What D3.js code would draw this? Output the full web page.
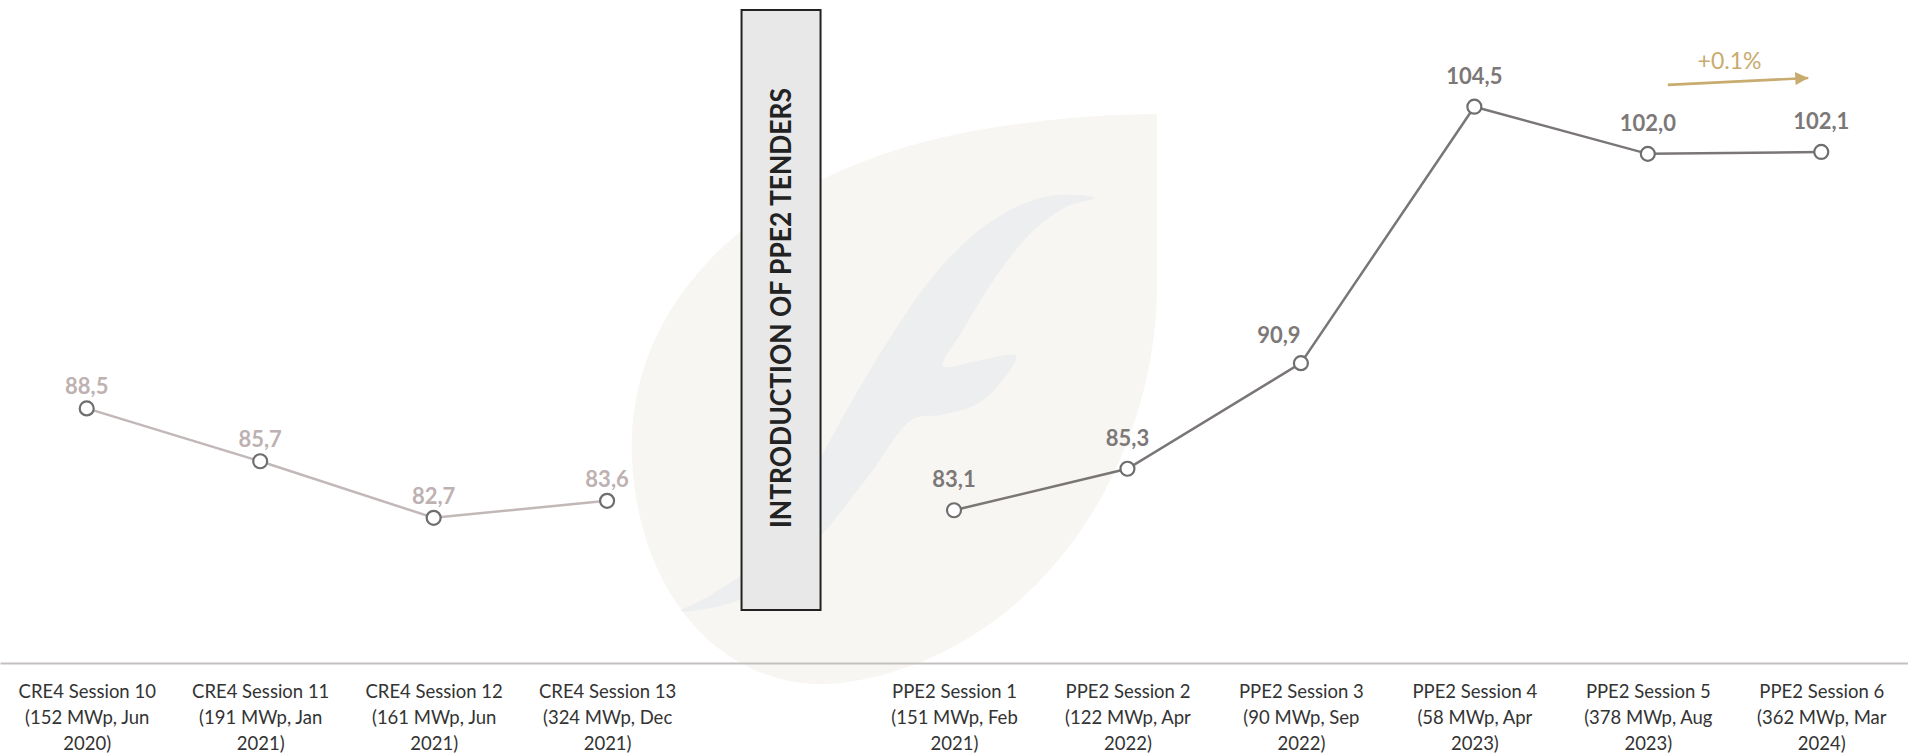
<!DOCTYPE html>
<html>
<head>
<meta charset="utf-8">
<script src="https://cdn.jsdelivr.net/npm/d3@7"></script>
<style>
  html, body { margin: 0; padding: 0; background: #fff; }
  svg { display: block; font-family: Lato, "Open Sans", sans-serif; }
</style>
</head>
<body>
<svg id="chart-area"></svg>
<script>
// categories, with one empty slot where the PPE2 note sits
const categories = [
    "CRE4 Session 10", "CRE4 Session 11", "CRE4 Session 12", "CRE4 Session 13",
    "gap",
    "PPE2 Session 1", "PPE2 Session 2", "PPE2 Session 3",
    "PPE2 Session 4", "PPE2 Session 5", "PPE2 Session 6"
]
const tickDetails = [
    ["(152 MWp, Jun", "2020)"], ["(191 MWp, Jan", "2021)"], ["(161 MWp, Jun", "2021)"], ["(324 MWp, Dec", "2021)"],
    [],
    ["(151 MWp, Feb", "2021)"], ["(122 MWp, Apr", "2022)"], ["(90 MWp, Sep", "2022)"],
    ["(58 MWp, Apr", "2023)"], ["(378 MWp, Aug", "2023)"], ["(362 MWp, Mar", "2024)"]
]
const cre4Sessions = ["CRE4 Session 10", "CRE4 Session 11", "CRE4 Session 12", "CRE4 Session 13"]
const cre4Values = [88.5, 85.7, 82.7, 83.6]
const ppe2Sessions = ["PPE2 Session 1", "PPE2 Session 2", "PPE2 Session 3", "PPE2 Session 4", "PPE2 Session 5", "PPE2 Session 6"]
const ppe2Values = [83.1, 85.3, 90.9, 104.5, 102.0, 102.1]
const noteText = "INTRODUCTION OF PPE2 TENDERS"
const changeText = "+0.1%"

function drawChart() {
    const width = 1908
    const height = 755
    const baseline = 663

    const svg = d3.select("#chart-area")
        .attr("width", width)
        .attr("height", height)

    const x = d3.scalePoint().domain(categories).range([0, width]).padding(0.5)
    const y = d3.scaleLinear().domain([75, 110]).range([baseline, 3])

    const fmt = d3.formatLocale({decimal: ",", thousands: ".", grouping: [3], currency: ["", ""]}).format(".1f")

    // watermark logo (leaf with an "f")
    const logo = svg.append("g")
    logo.append("path")
        .attr("d", "M1157,114 L1157,295 C1152,470 1040,645 860,680 C740,705 640,610 632,460 C624,300 760,165 990,128 C1070,116 1120,114 1157,114 Z")
        .attr("fill", "#f8f6f2")
    const fOutline = [
        [1095,198],[1049,196],[995,219],[941,267],[888,341],[834,433],[791,515],[756,563],[709,596],[681,611],
        [720,606],[770,585],[820,537],[870,474],[913,419],
        [941,415],[977,404],[1002,381],[1016,356],
        [977,361],[943,366],
        [963,330],[995,278],[1031,233],[1066,207]
    ]
    logo.append("path")
        .attr("d", d3.line().curve(d3.curveCatmullRomClosed.alpha(0.5))(fOutline))
        .attr("fill", "#eceeef")

    // x axis
    const xAxis = svg.append("g")
        .attr("transform", `translate(0,${baseline})`)
        .call(d3.axisBottom(x).tickSize(0))
    xAxis.select(".domain").attr("stroke", "#c4c0c0").attr("stroke-width", 2)
    xAxis.selectAll(".tick text").each(function(d, i) {
        const t = d3.select(this)
        t.text(null).attr("y", 0).attr("dy", 0)
            .attr("fill", "#333").attr("font-size", 18.5)
            .attr("font-family", "Lato, sans-serif")
        if (d === "gap") return
        const lines = [d].concat(tickDetails[i])
        lines.forEach((line, k) => {
            t.append("tspan").attr("x", 0).attr("y", 35 + k * 26).text(line)
        })
    })

    // note box in the empty slot
    const boxX = x("gap")
    svg.append("rect")
        .attr("x", boxX - 39).attr("y", 10)
        .attr("width", 79).attr("height", 600)
        .attr("fill", "#e8e8e8").attr("stroke", "#222").attr("stroke-width", 2)
    svg.append("text")
        .attr("transform", `translate(${boxX + 10},308) rotate(-90)`)
        .attr("text-anchor", "middle")
        .attr("font-size", 29).attr("font-weight", 700)
        .attr("textLength", 440).attr("lengthAdjust", "spacingAndGlyphs")
        .attr("fill", "#222")
        .text(noteText)

    const series = [
        {names: cre4Sessions, values: cre4Values, line: "#c2b8b8", label: "#bdb1b1", gap: 14},
        {names: ppe2Sessions, values: ppe2Values, line: "#7a7676", label: "#7d7878", gap: 23}
    ]

    const line = d3.line().x(d => x(d.name)).y(d => y(d.value))

    series.forEach(s => {
        const pts = s.names.map((n, i) => ({name: n, value: s.values[i], next: s.values[i + 1]}))
        svg.append("path")
            .datum(pts)
            .attr("d", line)
            .attr("fill", "none")
            .attr("stroke", s.line)
            .attr("stroke-width", 2.5)

        svg.selectAll(null)
            .data(pts)
            .enter().append("circle")
            .attr("cx", d => x(d.name))
            .attr("cy", d => y(d.value))
            .attr("r", 7)
            .attr("fill", "#fff")
            .attr("stroke", "#6e6e6e")
            .attr("stroke-width", 2.2)

        // labels sit above the point, pushed left where the next segment climbs steeply
        const steep = d => d.next !== undefined && d.next - d.value > 10
        svg.selectAll(null)
            .data(pts)
            .enter().append("text")
            .attr("x", d => x(d.name) - (steep(d) ? 22 : 0))
            .attr("y", d => y(d.value) - (steep(d) ? 20 : s.gap))
            .attr("text-anchor", "middle")
            .attr("font-size", 22).attr("font-weight", 700)
            .attr("fill", s.label)
            .text(d => fmt(d.value))
    })

    // change annotation between the last two sessions
    const gold = "#c8ab6e"
    svg.append("defs").append("marker")
        .attr("id", "arrow")
        .attr("viewBox", "0 0 10 10")
        .attr("refX", 10).attr("refY", 5)
        .attr("markerWidth", 6).attr("markerHeight", 5)
        .attr("markerUnits", "strokeWidth")
        .attr("orient", "auto")
        .append("path").attr("d", "M0,0 L10,5 L0,10 Z").attr("fill", gold)

    const x5 = x(ppe2Sessions[4]), x6 = x(ppe2Sessions[5])
    svg.append("line")
        .attr("x1", x5 + 20).attr("y1", y(ppe2Values[4]) - 69)
        .attr("x2", x6 - 13).attr("y2", y(ppe2Values[5]) - 74)
        .attr("stroke", gold).attr("stroke-width", 2.6)
        .attr("marker-end", "url(#arrow)")
    svg.append("text")
        .attr("x", (x5 + x6) / 2 - 5)
        .attr("y", 69)
        .attr("text-anchor", "middle")
        .attr("font-size", 23)
        .attr("fill", gold)
        .text(changeText)
}

drawChart()
</script>
</body>
</html>
